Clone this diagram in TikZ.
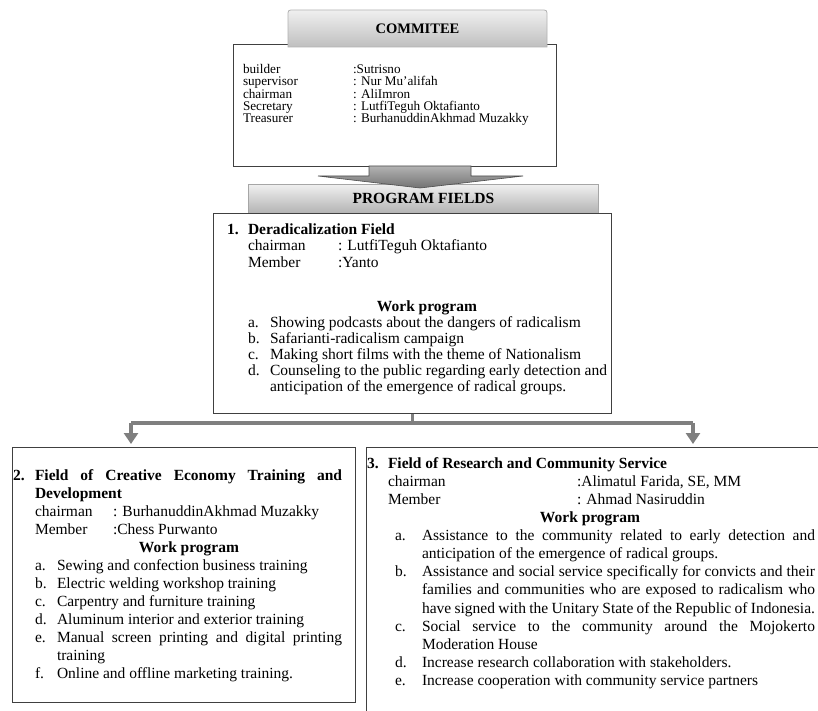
\documentclass[tikz,border=0pt]{standalone}
\usepackage{fontspec}
\setmainfont{Liberation Serif}
\usetikzlibrary{arrows.meta}
\definecolor{connc}{HTML}{7F7F7F}
\newcommand{\jline}[2]{\makebox[#1pt][s]{#2}}
\tikzset{
  t/.style={anchor=base west, inner sep=0pt, outer sep=0pt, font=\fontsize{15.5}{17}\selectfont},
  tb/.style={t, font=\fontsize{15.5}{17}\selectfont\bfseries},
  tc/.style={anchor=base west, inner sep=0pt, outer sep=0pt, font=\fontsize{13.2}{13}\selectfont},
  tw/.style={anchor=base, inner sep=0pt, outer sep=0pt, font=\fontsize{15.5}{17}\selectfont\bfseries},
  box/.style={draw=black!75, line width=1.1pt, fill=white, inner sep=0pt, anchor=north west},
  bar/.style={draw=black!35, line width=0.8pt, top color=black!6, bottom color=black!30, inner sep=0pt, anchor=north west, font=\fontsize{15.5}{17}\selectfont\bfseries},
  conn/.style={draw=connc, line width=3.8pt, line join=miter},
  tip/.style={-{Triangle[width=14pt,length=11pt]}, shorten >=3pt},
}
\begin{document}
\begin{tikzpicture}[x=1pt,y=-1pt]
\useasboundingbox (0,0) rectangle (818,711);
\fill[white] (0,0) rectangle (818,711);

% ---------- committee ----------
\node[box, minimum width=323, minimum height=122] (cb) at (233,44) {};
\path[draw=black!30, line width=0.8pt, top color=black!6, bottom color=black!25]
  (288,47) -- (288,16) .. controls (288,10) .. (294,10) -- (541,10)
  .. controls (547,10) .. (547,16) -- (547,47) -- cycle;
\node[inner sep=0pt, font=\fontsize{14.5}{16}\selectfont\bfseries] (tabt) at (417.5,29) {COMMITEE};

\node[tc] (cl1) at (243,73.5) {builder};
\node[tc] (cv1) at (353,73.5) {:Sutrisno};
\node[tc] (cl2) at (243,85.8) {supervisor};
\node[tc] (cv2) at (353,85.8) {: Nur Mu'alifah};
\node[tc] (cl3) at (243,98.1) {chairman};
\node[tc] (cv3) at (353,98.1) {: AliImron};
\node[tc] (cl4) at (243,110.4) {Secretary};
\node[tc] (cv4) at (353,110.4) {: LutfiTeguh Oktafianto};
\node[tc] (cl5) at (243,122.7) {Treasurer};
\node[tc] (cv5) at (353,122.7) {: BurhanuddinAkhmad Muzakky};

% ---------- program fields ----------
\node[bar, minimum width=350, minimum height=29] (pf) at (248,184) {PROGRAM FIELDS};
\path[draw=black!70, line width=0.6pt, top color=black!30, bottom color=black!55]
  (369,166) -- (471,166) -- (471,176) -- (523,176) -- (420,188) -- (318,176) -- (369,176) -- cycle;

% ---------- box 1 ----------
\node[box, minimum width=398, minimum height=200] (b1) at (213,213) {};
\node[tb] (h1n) at (227,234) {1.};
\node[tb] (h1) at (248,234) {Deradicalization Field};
\node[t] (b1l1) at (248,250.5) {chairman};
\node[t] (b1v1) at (338,250.5) {: LutfiTeguh Oktafianto};
\node[t] (b1l2) at (248,267) {Member};
\node[t] (b1v2) at (338,267) {:Yanto};
\node[tw] (wp1) at (427,311) {Work program};
\node[t] (b1a) at (248,327) {a.};
\node[t] (b1at) at (270,327) {Showing podcasts about the dangers of radicalism};
\node[t] (b1b) at (248,343) {b.};
\node[t] (b1bt) at (270,343) {Safarianti-radicalism campaign};
\node[t] (b1c) at (248,359) {c.};
\node[t] (b1ct) at (270,359) {Making short films with the theme of Nationalism};
\node[t] (b1d) at (248,375) {d.};
\node[t] (b1dt) at (270,375) {\jline{337}{Counseling to the public regarding early detection and}};
\node[t] (b1dt2) at (270,391) {anticipation of the emergence of radical groups.};

% ---------- box 2 ----------
\node[box, minimum width=343, minimum height=255] (b2) at (12,447) {};
\node[tb] (h2n) at (13,480) {2.};
\node[tb] (h2) at (35,480) {\jline{307}{Field of Creative Economy Training and}};
\node[tb] (h2b) at (35,498) {Development};
\node[t] (b2l1) at (35,516) {chairman};
\node[t] (b2v1) at (113,516) {: BurhanuddinAkhmad Muzakky};
\node[t] (b2l2) at (35,534) {Member};
\node[t] (b2v2) at (113,534) {:Chess Purwanto};
\node[tw] (wp2) at (189,552) {Work program};
\node[t] (b2a) at (35,570) {a.};
\node[t] (b2at) at (57,570) {Sewing and confection business training};
\node[t] (b2b) at (35,588) {b.};
\node[t] (b2bt) at (57,588) {Electric welding workshop training};
\node[t] (b2c) at (35,606) {c.};
\node[t] (b2ct) at (57,606) {Carpentry and furniture training};
\node[t] (b2d) at (35,624) {d.};
\node[t] (b2dt) at (57,624) {Aluminum interior and exterior training};
\node[t] (b2e) at (35,642) {e.};
\node[t] (b2et) at (57,642) {\jline{285}{Manual screen printing and digital printing}};
\node[t] (b2et2) at (57,660) {training};
\node[t] (b2f) at (35,678) {f.};
\node[t] (b2ft) at (57,678) {Online and offline marketing training.};

% ---------- box 3 ----------
\begin{scope}
\clip (0,0) rectangle (818,711);
\node[box, minimum width=480, minimum height=290] (b3) at (366,447) {};
\end{scope}
\node[tb] (h3n) at (367,468) {3.};
\node[tb] (h3) at (388,468) {Field of Research and Community Service};
\node[t] (b3l1) at (388,486) {chairman};
\node[t] (b3v1) at (577,486) {:Alimatul Farida, SE, MM};
\node[t] (b3l2) at (388,504) {Member};
\node[t] (b3v2) at (577,504) {: Ahmad Nasiruddin};
\node[tw] (wp3) at (590,522) {Work program};
\node[t] (b3a) at (395,540) {a.};
\node[t] (b3at) at (422,540) {\jline{393}{Assistance to the community related to early detection and}};
\node[t] (b3at2) at (422,558) {anticipation of the emergence of radical groups.};
\node[t] (b3b) at (395,576.5) {b.};
\node[t] (b3bt) at (422,576.5) {\jline{393}{Assistance and social service specifically for convicts and their}};
\node[t] (b3bt2) at (422,594.5) {\jline{393}{families and communities who are exposed to radicalism who}};
\node[t] (b3bt3) at (422,613) {\jline{393}{have signed with the Unitary State of the Republic of Indonesia.}};
\node[t] (b3c) at (395,631) {c.};
\node[t] (b3ct) at (422,631) {\jline{393}{Social service to the community around the Mojokerto}};
\node[t] (b3ct2) at (422,649) {Moderation House};
\node[t] (b3d) at (395,667) {d.};
\node[t] (b3dt) at (422,667) {Increase research collaboration with stakeholders.};
\node[t] (b3e) at (395,685) {e.};
\node[t] (b3et) at (422,685) {Increase cooperation with community service partners};

% ---------- connectors ----------
\coordinate (jl) at (131,423);
\coordinate (jr) at (693,423);
\draw[conn] (b1.south) |- (jl);
\draw[conn] (b1.south) |- (jr);
\draw[conn, tip] (jl) -- (jl |- b2.north);
\draw[conn, tip] (jr) -- (jr |- b3.north);
\end{tikzpicture}
\end{document}
